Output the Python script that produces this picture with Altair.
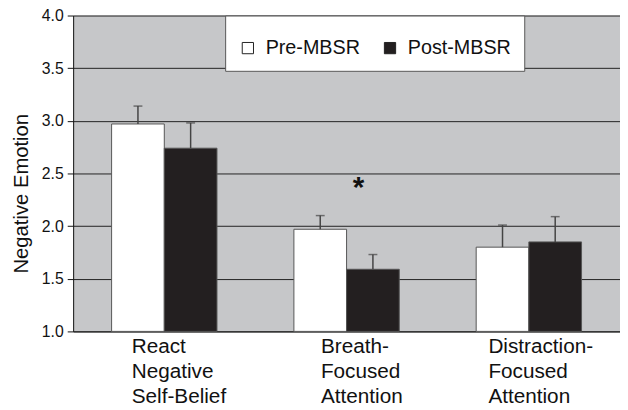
import altair as alt
import pandas as pd

categories = ["React|Negative|Self-Belief", "Breath-|Focused|Attention", "Distraction-|Focused|Attention"]
groups = ["Pre-MBSR", "Post-MBSR"]
pre_means = [2.97, 1.97, 1.80]
post_means = [2.74, 1.59, 1.85]
pre_err = [0.17, 0.13, 0.21]
post_err = [0.24, 0.14, 0.24]
star_category = ["Breath-|Focused|Attention"]
star_y = [2.41]
y_ticks = [1.0, 1.5, 2.0, 2.5, 3.0, 3.5, 4.0]

rows = []
for c, m, e in zip(categories, pre_means, pre_err):
    rows.append({"category": c, "group": groups[0], "mean": m, "upper": m + e})
for c, m, e in zip(categories, post_means, post_err):
    rows.append({"category": c, "group": groups[1], "mean": m, "upper": m + e})
df = pd.DataFrame(rows)
star_df = pd.DataFrame({"category": star_category, "y": star_y})

FONT = "Liberation Sans"

x_axis = alt.Axis(
    title=None,
    ticks=False,
    domain=True,
    domainColor="#111",
    labelExpr="split(datum.label, '|')",
    labelAlign="left",
    labelBaseline="top",
    labelFontSize=21,
    labelFont=FONT,
    labelColor="#111",
    labelLineHeight=25.5,
    labelPadding=4,
    labelLimit=300,
    labelAngle=0,
    labelOffset={
        "condition": [
            {"test": "indexof(datum.label, 'React') == 0", "value": -33},
            {"test": "indexof(datum.label, 'Breath') == 0", "value": -26},
        ],
        "value": -41,
    },
)

y_axis = alt.Axis(
    title="Negative Emotion",
    titleFontSize=20.5,
    titleFont=FONT,
    titleFontWeight="normal",
    titleColor="#111",
    titleAngle=270,
    titleAlign="center",
    titleBaseline="bottom",
    titleX=-42,
    titleY=180,
    values=y_ticks,
    format=".1f",
    labelFontSize=16,
    labelFont=FONT,
    labelColor="#111",
    labelPadding=4,
    tickSize=6,
    tickColor="#111",
    domainColor="#111",
    grid=True,
    gridColor="#222",
    gridWidth=1,
)

x_enc = alt.X("category:N", sort=categories, scale=alt.Scale(paddingInner=0, paddingOuter=0), axis=x_axis)
xoff_enc = alt.XOffset("group:N", sort=groups, scale=alt.Scale(paddingInner=0, paddingOuter=0.73))
y_scale = alt.Scale(domain=[1, 4], nice=False, zero=False)

base = alt.Chart(df).encode(x=x_enc, xOffset=xoff_enc)

bars = base.mark_bar(stroke="#555", strokeWidth=1).encode(
    y=alt.Y("mean:Q", scale=y_scale, axis=y_axis),
    y2=alt.Y2(datum=1),
    color=alt.Color(
        "group:N",
        sort=groups,
        scale=alt.Scale(domain=groups, range=["#ffffff", "#231f20"]),
        legend=alt.Legend(title=" "),
    ),
)

err = base.mark_rule(color="#444", strokeWidth=1.5).encode(
    y=alt.Y("mean:Q"), y2=alt.Y2("upper:Q")
)
caps = base.mark_tick(color="#444", thickness=1.5, size=9).encode(y=alt.Y("upper:Q"))

star = alt.Chart(star_df).mark_text(
    text="*", fontSize=30, fontWeight="bold", font=FONT, color="#111", dx=12, dy=5
).encode(x=alt.X("category:N", sort=categories), y=alt.Y("y:Q"))

chart = (
    alt.layer(bars, err, caps, star)
    .properties(
        width=554,
        height=320,
        autosize="none",
        padding={"left": 66, "top": 5, "right": 0, "bottom": 77},
        background="white",
    )
    .configure_view(fill="#c6c7c9", stroke=None)
    .configure_legend(
        orient="none",
        legendX=154,
        legendY=0,
        direction="horizontal",
        fillColor="white",
        strokeColor="#555",
        padding=13,
        titleFontSize=10,
        titlePadding=0,
        labelFontSize=20,
        labelFont=FONT,
        labelColor="#111",
        labelOffset=8,
        columnPadding=20,
        symbolType="square",
        symbolSize=130,
        symbolStrokeColor="#222",
        symbolStrokeWidth=1,
    )
)

chart.save("out.html", embed_options={"renderer": "svg", "actions": False})
